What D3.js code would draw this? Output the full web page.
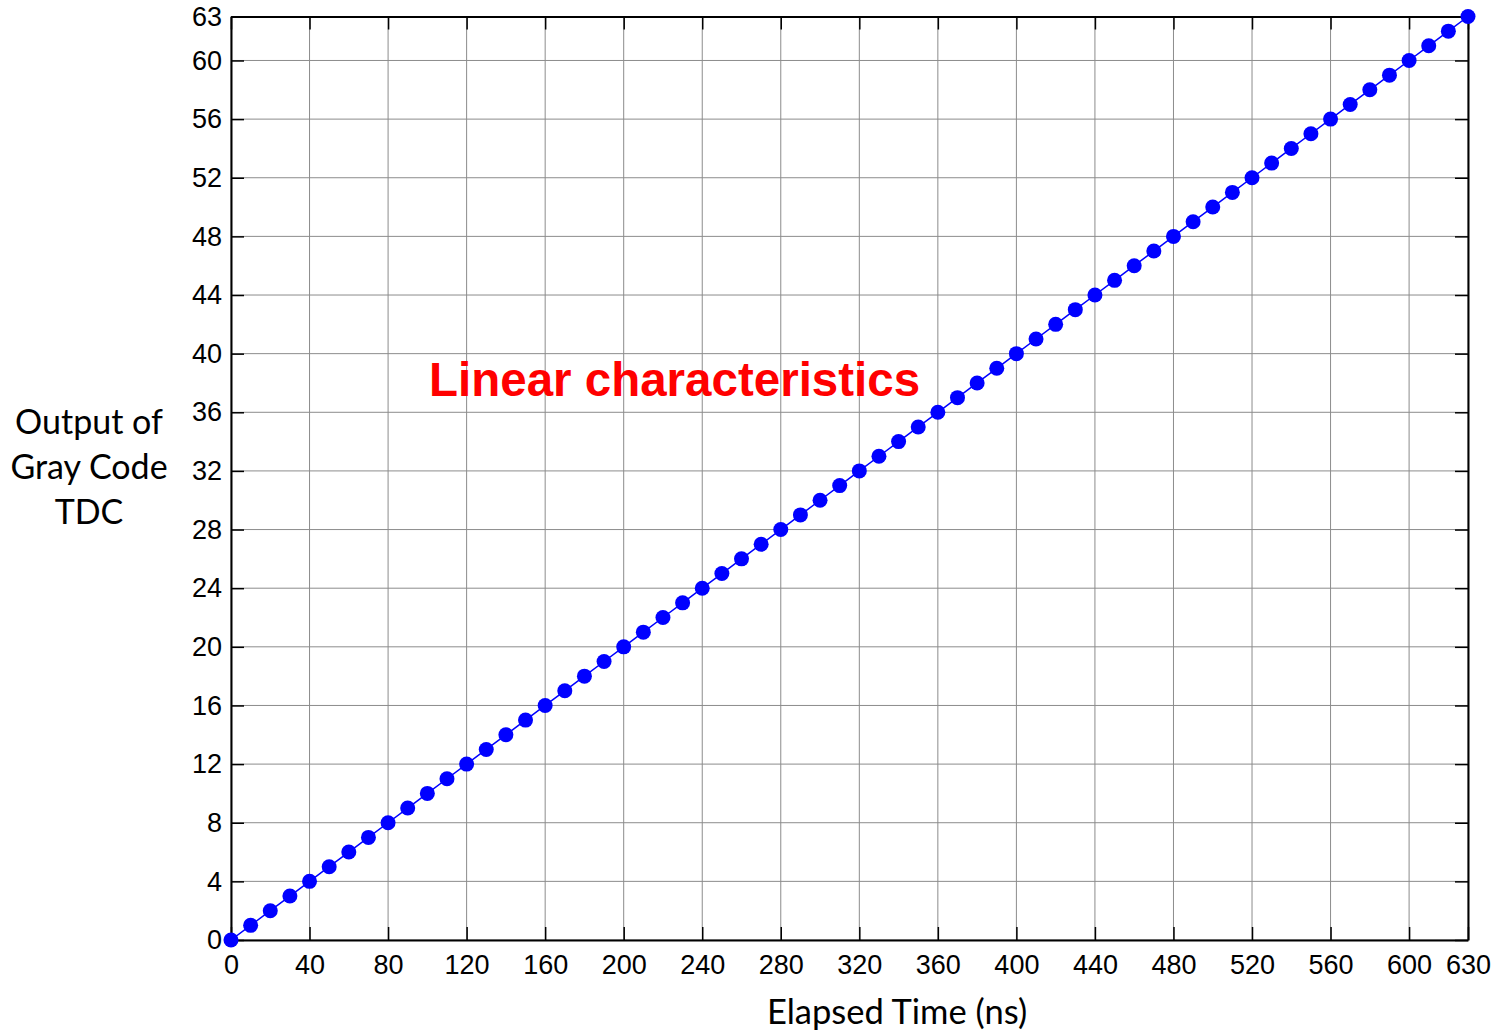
<!DOCTYPE html>
<html>
<head>
<meta charset="utf-8">
<script src="https://cdn.jsdelivr.net/npm/d3@7"></script>
<style>
  body { margin: 0; background: #fff; }
  svg { display: block; }
</style>
</head>
<body>
<div id="chart"></div>
<script>
// elapsed time (ns) and TDC output code
var times = [0, 10, 20, 30, 40, 50, 60, 70, 80, 90, 100, 110, 120, 130, 140, 150,
  160, 170, 180, 190, 200, 210, 220, 230, 240, 250, 260, 270, 280, 290, 300, 310,
  320, 330, 340, 350, 360, 370, 380, 390, 400, 410, 420, 430, 440, 450, 460, 470,
  480, 490, 500, 510, 520, 530, 540, 550, 560, 570, 580, 590, 600, 610, 620, 630];
var codes = [0, 1, 2, 3, 4, 5, 6, 7, 8, 9, 10, 11, 12, 13, 14, 15,
  16, 17, 18, 19, 20, 21, 22, 23, 24, 25, 26, 27, 28, 29, 30, 31,
  32, 33, 34, 35, 36, 37, 38, 39, 40, 41, 42, 43, 44, 45, 46, 47,
  48, 49, 50, 51, 52, 53, 54, 55, 56, 57, 58, 59, 60, 61, 62, 63];

var xTicks = [0, 40, 80, 120, 160, 200, 240, 280, 320, 360, 400, 440, 480, 520, 560, 600, 630];
var yTicks = [0, 4, 8, 12, 16, 20, 24, 28, 32, 36, 40, 44, 48, 52, 56, 60, 63];

var W = 1499, H = 1034;
var margin = {top: 16.5, right: 31, bottom: 94, left: 231};
var width = W - margin.left - margin.right,
    height = H - margin.top - margin.bottom;

var points = times.map(function(t, i) { return {t: t, c: codes[i]}; });

var x = d3.scaleLinear().domain([0, 630]).range([0, width]);
var y = d3.scaleLinear().domain([0, 63]).range([height, 0]);

var svg = d3.select("#chart").append("svg")
    .attr("width", W)
    .attr("height", H);

var g = svg.append("g")
    .attr("transform", "translate(" + margin.left + "," + margin.top + ")");

// grid
g.append("g").selectAll("line.gx")
  .data(xTicks).enter().append("line")
    .attr("x1", function(d) { return x(d); })
    .attr("x2", function(d) { return x(d); })
    .attr("y1", 0).attr("y2", height)
    .attr("stroke", "#8c8c8c").attr("stroke-width", 1);
g.append("g").selectAll("line.gy")
  .data(yTicks).enter().append("line")
    .attr("y1", function(d) { return y(d); })
    .attr("y2", function(d) { return y(d); })
    .attr("x1", 0).attr("x2", width)
    .attr("stroke", "#8c8c8c").attr("stroke-width", 1);

// axes: ticks drawn inward, labels outside
var tickLen = 13;
var xAxis = d3.axisBottom(x).tickValues(xTicks).tickSizeInner(-tickLen).tickSizeOuter(0).tickPadding(15);
var yAxis = d3.axisLeft(y).tickValues(yTicks).tickSizeInner(-tickLen).tickSizeOuter(0).tickPadding(9);
var xTop = d3.axisTop(x).tickValues(xTicks).tickSizeInner(-tickLen).tickSizeOuter(0).tickFormat("");
var yRight = d3.axisRight(y).tickValues(yTicks).tickSizeInner(-tickLen).tickSizeOuter(0).tickFormat("");

function styleAxis(sel) {
  sel.select(".domain").attr("stroke", "#000").attr("stroke-width", 2);
  sel.selectAll(".tick line").attr("stroke", "#000").attr("stroke-width", 1.5);
  sel.selectAll(".tick text")
    .attr("fill", "#000")
    .style("font-family", "'Liberation Sans', Arial, sans-serif")
    .style("font-size", "27px");
}

g.append("g").attr("transform", "translate(0," + height + ")").call(xAxis).call(styleAxis);
g.append("g").call(yAxis).call(styleAxis);
g.append("g").call(xTop).call(styleAxis);
g.append("g").attr("transform", "translate(" + width + ",0)").call(yRight).call(styleAxis);

// series
var line = d3.line()
    .x(function(d) { return x(d.t); })
    .y(function(d) { return y(d.c); });

g.append("path")
    .datum(points)
    .attr("fill", "none")
    .attr("stroke", "#0000ff")
    .attr("stroke-width", 1.5)
    .attr("d", line);

g.selectAll("circle.pt")
  .data(points).enter().append("circle")
    .attr("cx", function(d) { return x(d.t); })
    .attr("cy", function(d) { return y(d.c); })
    .attr("r", 7.5)
    .attr("fill", "#0000ff");

// annotation
svg.append("text")
    .attr("x", 429).attr("y", 396)
    .attr("fill", "#ff0000")
    .style("font-family", "'Liberation Sans', Arial, sans-serif")
    .style("font-weight", "bold")
    .style("font-size", "47.5px")
    .text("Linear characteristics");

// axis labels
svg.append("text")
    .attr("x", 897).attr("y", 1024)
    .attr("text-anchor", "middle")
    .style("font-family", "Lato, 'Open Sans', sans-serif")
    .style("font-size", "34.5px")
    .text("Elapsed Time (ns)");

var yl = svg.append("text")
    .attr("text-anchor", "middle")
    .style("font-family", "Lato, 'Open Sans', sans-serif")
    .style("font-size", "34px");
["Output of", "Gray Code", "TDC"].forEach(function(s, i) {
  yl.append("tspan").attr("x", 89).attr("y", 434 + i * 45).text(s);
});
</script>
</body>
</html>
